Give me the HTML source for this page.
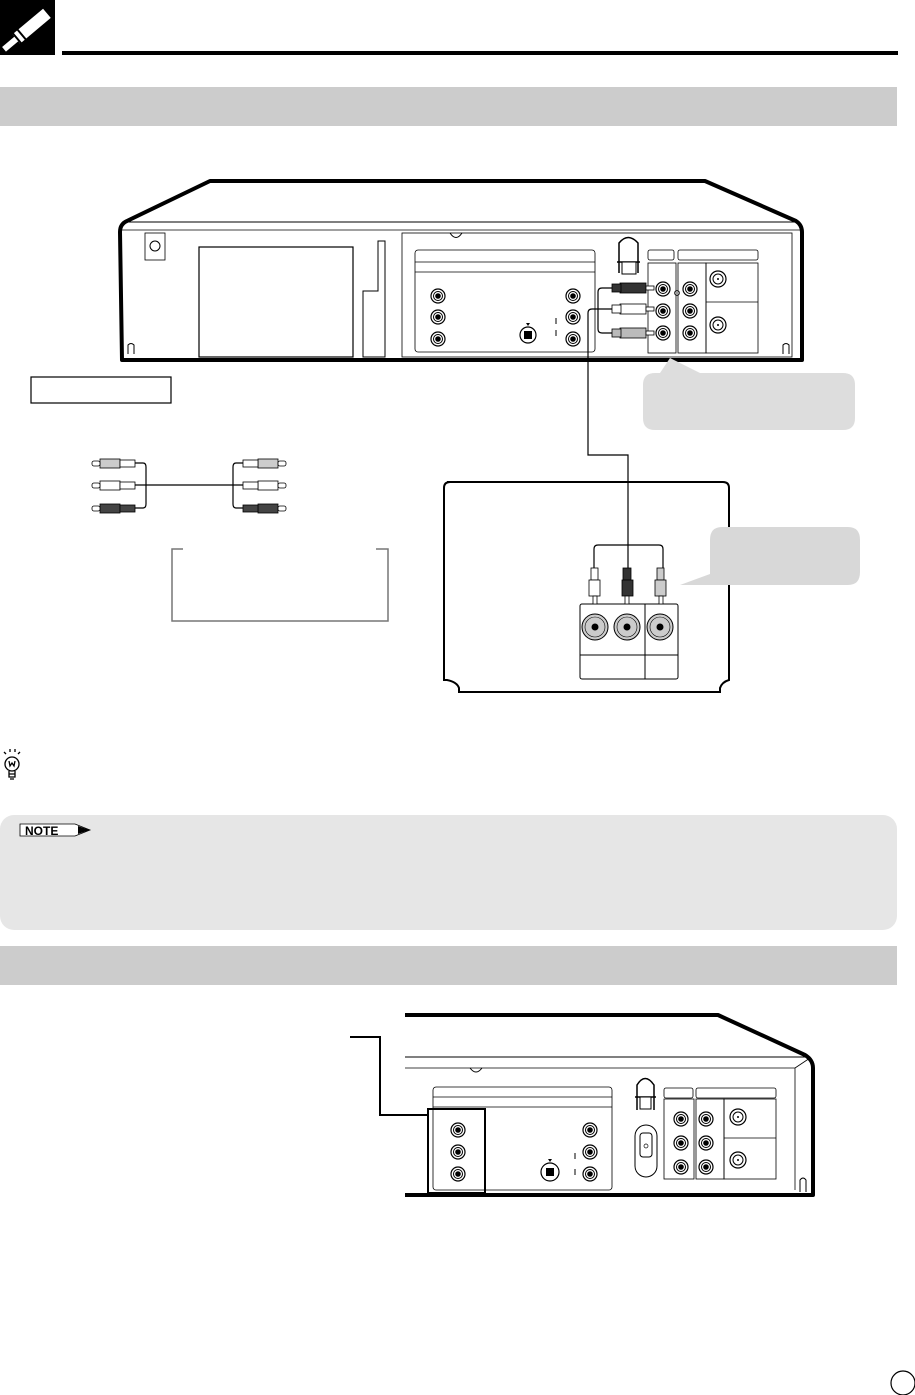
<!DOCTYPE html>
<html><head><meta charset="utf-8"><style>
html,body{margin:0;padding:0;background:#fff;}
svg{display:block;}
</style></head><body>
<svg width="915" height="1395" viewBox="0 0 915 1395" xmlns="http://www.w3.org/2000/svg" font-family="Liberation Sans, sans-serif">
<defs>
<g id="jack"><circle r="7" fill="#fff" stroke="#000" stroke-width="1.2"/><circle r="4.5" fill="#fff" stroke="#000" stroke-width="1"/><circle r="2.8" fill="#000"/></g>
<g id="coax"><circle r="8" fill="#fff" stroke="#000" stroke-width="1.2"/><circle r="5" fill="#fff" stroke="#000"/><circle r="1" fill="#000"/></g>
</defs>
<!-- header -->
<rect x="0" y="0" width="55" height="55" fill="#000"/>
<g transform="translate(27,30) rotate(-40)">
<rect x="-4" y="-6" width="40" height="12" fill="#fff" transform="translate(-10,0)"/>
<rect x="-30" y="-3" width="20" height="6" fill="#fff"/>
<rect x="-14" y="-8" width="2" height="16" fill="#000"/>
<rect x="-8" y="-8" width="2" height="16" fill="#000"/>
</g>
<rect x="62" y="51" width="836" height="4" fill="#000"/>
<rect x="0" y="87" width="897" height="39" fill="#ccc"/>

<!-- VCR 1 -->
<path d="M122,360 L120,232 Q120,224 127,221 L210,181 L705,181 L796,221 Q802,225 802,232 L802,360 Z" fill="#fff" stroke="#000" stroke-width="4" stroke-linejoin="round"/>
<line x1="122" y1="222" x2="800" y2="222" stroke="#000" stroke-width="1"/>
<line x1="122" y1="230" x2="800" y2="230" stroke="#000" stroke-width="0.8"/>
<path d="M128,354 L128,345 Q131,342 134,345 L134,354" fill="none" stroke="#000"/>
<path d="M783,354 L783,345 Q786,342 789,345 L789,354" fill="none" stroke="#000"/>
<rect x="145" y="233" width="20" height="27" fill="none" stroke="#000" stroke-width="0.8"/>
<circle cx="155" cy="246" r="5" fill="none" stroke="#000"/>
<rect x="199" y="247" width="154" height="110" fill="none" stroke="#000" stroke-width="1.2"/>
<path d="M363,357 L363,291 L378,291 L378,241 L385,241 L385,357 Z" fill="none" stroke="#000"/>
<rect x="402" y="233" width="390" height="124" fill="none" stroke="#000" stroke-width="0.8"/>
<path d="M450,233 Q456,242 462,233" fill="none" stroke="#000"/>
<rect x="415" y="250" width="180" height="102" rx="3" fill="none" stroke="#000" stroke-width="0.8"/>
<line x1="415" y1="262" x2="595" y2="262" stroke="#000" stroke-width="0.8"/>
<line x1="415" y1="272" x2="595" y2="272" stroke="#000" stroke-width="0.8"/>
<use href="#jack" x="438" y="296"/><use href="#jack" x="438" y="317"/><use href="#jack" x="438" y="339"/>
<use href="#jack" x="573" y="296"/><use href="#jack" x="573" y="317"/><use href="#jack" x="573" y="339"/>
<circle cx="528" cy="335" r="8" fill="#fff" stroke="#000" stroke-width="1.2"/><rect x="524" y="331" width="8" height="8" fill="#000"/>
<path d="M526,323 L530,323 L528,326 Z" fill="#000"/>
<line x1="556" y1="318" x2="556" y2="324" stroke="#000"/><line x1="556" y1="330" x2="556" y2="336" stroke="#000"/>
<path d="M619,273 L619,243 Q628,232 638,243 L638,273 M617,262 L640,262" fill="none" stroke="#000" stroke-width="1.5"/>
<rect x="622" y="262" width="14" height="12" fill="#fff" stroke="#000"/>
<rect x="648" y="250" width="26" height="10" rx="2" fill="none" stroke="#000" stroke-width="0.8"/>
<rect x="678" y="250" width="80" height="10" rx="2" fill="none" stroke="#000" stroke-width="0.8"/>
<rect x="648" y="263" width="28" height="90" fill="none" stroke="#000" stroke-width="0.8"/>
<rect x="678" y="263" width="28" height="90" fill="none" stroke="#000" stroke-width="0.8"/>
<rect x="706" y="263" width="52" height="90" fill="none" stroke="#000" stroke-width="0.8"/>
<line x1="706" y1="302" x2="758" y2="302" stroke="#000" stroke-width="0.8"/>
<use href="#jack" x="663" y="289"/><use href="#jack" x="663" y="311"/><use href="#jack" x="663" y="333"/>
<use href="#jack" x="690" y="289"/><use href="#jack" x="690" y="311"/><use href="#jack" x="690" y="333"/>
<use href="#coax" x="718" y="279"/><use href="#coax" x="718" y="325"/>
<circle cx="677" cy="293" r="2.5" fill="none" stroke="#000" stroke-width="0.7"/>
<!-- plugs into VCR -->
<g stroke="#000" stroke-width="0.8">
<rect x="620" y="283" width="26" height="10" fill="#333"/><rect x="612" y="284" width="9" height="8" fill="#333"/><rect x="646" y="286" width="8" height="4" fill="#fff"/>
<rect x="620" y="304" width="26" height="10" fill="#fff"/><rect x="612" y="305" width="9" height="8" fill="#fff"/><rect x="646" y="307" width="8" height="4" fill="#fff"/>
<rect x="620" y="328" width="26" height="10" fill="#bbb"/><rect x="612" y="329" width="9" height="8" fill="#bbb"/><rect x="646" y="331" width="8" height="4" fill="#fff"/>
</g>
<path d="M612,288 L602,288 Q598,288 598,292 L598,329 Q598,333 602,333 L612,333" fill="none" stroke="#000" stroke-width="1.2"/>
<path d="M612,309 L592,309 Q588,309 588,313 L588,455 L628,455 L628,575" fill="none" stroke="#000" stroke-width="1.2"/>
<!-- callout 1 -->
<path d="M670,358 L700,373 L843,373 Q855,373 855,385 L855,418 Q855,430 843,430 L655,430 Q643,430 643,418 L643,385 Q643,373 655,373 L660,373 Z" fill="#ddd"/>

<!-- left cable -->
<rect x="31" y="377" width="140" height="26" fill="none" stroke="#000" stroke-width="1.2"/>
<g stroke="#000" stroke-width="0.8">
<rect x="100" y="459" width="20" height="9" fill="#ccc"/><rect x="120" y="460" width="15" height="7" fill="#fff"/><rect x="92" y="461" width="8" height="5" rx="2" fill="#fff"/>
<rect x="100" y="481" width="20" height="9" fill="#fff"/><rect x="120" y="482" width="15" height="7" fill="#fff"/><rect x="92" y="483" width="8" height="5" rx="2" fill="#fff"/>
<rect x="100" y="504" width="20" height="9" fill="#444"/><rect x="120" y="505" width="15" height="7" fill="#444"/><rect x="92" y="506" width="8" height="5" rx="2" fill="#fff"/>
<rect x="258" y="459" width="20" height="9" fill="#ccc"/><rect x="243" y="460" width="15" height="7" fill="#fff"/><rect x="278" y="461" width="8" height="5" rx="2" fill="#fff"/>
<rect x="258" y="481" width="20" height="9" fill="#fff"/><rect x="243" y="482" width="15" height="7" fill="#fff"/><rect x="278" y="483" width="8" height="5" rx="2" fill="#fff"/>
<rect x="258" y="504" width="20" height="9" fill="#444"/><rect x="243" y="505" width="15" height="7" fill="#444"/><rect x="278" y="506" width="8" height="5" rx="2" fill="#fff"/>
</g>
<path d="M135,463 L143,463 Q146,463 146,467 L146,504 Q146,508 143,508 L135,508 M135,485 L243,485 M243,463 L236,463 Q233,463 233,467 L233,504 Q233,508 236,508 L243,508" fill="none" stroke="#000" stroke-width="1.2"/>
<path d="M183,549 L172,549 L172,621 L388,621 L388,549 L376,549" fill="none" stroke="#777" stroke-width="1.5"/>

<!-- TV -->
<path d="M447,482 L723,482 Q729,482 729,488 L729,680 Q722,682 720,688 L720,692 L459,692 L459,688 Q457,682 447,680 L444,680 L444,488 Q444,482 450,482 Z" fill="none" stroke="#000" stroke-width="2"/>
<rect x="580" y="604" width="98" height="75" rx="2" fill="#fff" stroke="#000" stroke-width="1"/>
<line x1="645" y1="604" x2="645" y2="679" stroke="#000"/><line x1="580" y1="655" x2="678" y2="655" stroke="#000"/>
<g><circle cx="595" cy="627" r="13" fill="#ccc" stroke="#000"/><circle cx="595" cy="627" r="10" fill="#ccc" stroke="#000" stroke-width="0.6"/><circle cx="595" cy="627" r="3.5" fill="#000"/></g>
<g><circle cx="627" cy="627" r="13" fill="#ccc" stroke="#000"/><circle cx="627" cy="627" r="10" fill="#ccc" stroke="#000" stroke-width="0.6"/><circle cx="627" cy="627" r="3.5" fill="#000"/></g>
<g><circle cx="660" cy="627" r="13" fill="#ccc" stroke="#000"/><circle cx="660" cy="627" r="10" fill="#ccc" stroke="#000" stroke-width="0.6"/><circle cx="660" cy="627" r="3.5" fill="#000"/></g>
<path d="M594,568 L594,549 Q594,545 598,545 L659,545 Q663,545 663,549 L663,568" fill="none" stroke="#000" stroke-width="1.2"/>
<g stroke="#000" stroke-width="0.8">
<rect x="591" y="568" width="7" height="12" fill="#fff"/><rect x="589" y="580" width="11" height="16" fill="#fff"/><rect x="593" y="596" width="4" height="8" fill="#fff"/>
<rect x="623" y="568" width="8" height="12" fill="#333"/><rect x="622" y="580" width="11" height="16" fill="#333"/><rect x="625" y="596" width="4" height="8" fill="#fff"/>
<rect x="657" y="568" width="7" height="12" fill="#ccc"/><rect x="655" y="580" width="11" height="16" fill="#ccc"/><rect x="659" y="596" width="4" height="8" fill="#fff"/>
</g>
<!-- callout 2 -->
<path d="M680,585 L710,574 L710,540 Q710,527 722,527 L848,527 Q860,527 860,540 L860,572 Q860,585 848,585 L722,585 Z" fill="#d8d8d8"/>

<!-- bulb -->
<g stroke="#000" stroke-width="1.3" fill="none">
<circle cx="12" cy="764" r="7"/><path d="M9,771 L9,777 L15,777 L15,771 M9,774 L15,774 M10,779 L14,779"/>
<path d="M9,761 L10,766 L12,763 L14,766 L15,761"/>
<path d="M4,752 L6,754 M10,749 L10,752 M15,749 L15,752 M20,752 L18,754"/>
</g>

<!-- note -->
<rect x="0" y="815" width="897" height="115" rx="14" fill="#e6e6e6"/>
<path d="M20,824 L75,824 L90,830 L75,836 L20,836 Z" fill="#fff" stroke="#000" stroke-width="0.8"/>
<path d="M78,826 L90,830 L78,834 Z" fill="#000"/>
<text x="25" y="835" font-size="12" font-weight="bold">NOTE</text>

<rect x="0" y="946" width="897" height="39" fill="#ccc"/>

<!-- VCR 2 -->
<path d="M405,1015 L718,1015 L805,1055 Q813,1060 813,1068 L813,1195 L405,1195" fill="none" stroke="#000" stroke-width="4" stroke-linejoin="round"/>
<line x1="405" y1="1057" x2="808" y2="1057" stroke="#000"/>
<line x1="405" y1="1068" x2="795" y2="1068" stroke="#000" stroke-width="0.8"/>
<line x1="795" y1="1068" x2="795" y2="1190" stroke="#000" stroke-width="0.8"/>
<line x1="795" y1="1068" x2="810" y2="1058" stroke="#000" stroke-width="0.8"/>
<path d="M470,1068 Q476,1076 482,1068" fill="none" stroke="#000"/>
<path d="M800,1192 L800,1180 Q803,1176 806,1180 L806,1192" fill="none" stroke="#000"/>
<rect x="433" y="1087" width="179" height="103" rx="3" fill="none" stroke="#000" stroke-width="0.8"/>
<line x1="433" y1="1097" x2="612" y2="1097" stroke="#000" stroke-width="0.8"/>
<line x1="433" y1="1107" x2="612" y2="1107" stroke="#000" stroke-width="0.8"/>
<rect x="428" y="1109" width="57" height="84" fill="none" stroke="#000" stroke-width="2"/>
<path d="M350,1037 L380,1037 L380,1115 L428,1115" fill="none" stroke="#000" stroke-width="2"/>
<use href="#jack" x="458" y="1130"/><use href="#jack" x="458" y="1152"/><use href="#jack" x="458" y="1174"/>
<use href="#jack" x="590" y="1130"/><use href="#jack" x="590" y="1152"/><use href="#jack" x="590" y="1174"/>
<circle cx="550" cy="1172" r="9" fill="#fff" stroke="#000" stroke-width="1.2"/><rect x="546" y="1168" width="8" height="8" fill="#000"/>
<path d="M548,1159 L552,1159 L550,1162 Z" fill="#000"/>
<line x1="575" y1="1153" x2="575" y2="1159" stroke="#000"/><line x1="575" y1="1169" x2="575" y2="1175" stroke="#000"/>
<path d="M637,1110 L637,1085 Q645,1072 654,1085 L654,1110 M635,1097 L656,1097" fill="none" stroke="#000" stroke-width="1.5"/>
<rect x="640" y="1097" width="11" height="12" fill="#fff" stroke="#000"/>
<rect x="635" y="1125" width="22" height="52" rx="11" fill="none" stroke="#000"/>
<rect x="640" y="1133" width="12" height="24" rx="3" fill="none" stroke="#000"/>
<circle cx="646" cy="1146" r="2" fill="none" stroke="#000" stroke-width="0.7"/>
<rect x="664" y="1088" width="29" height="10" rx="2" fill="none" stroke="#000" stroke-width="0.8"/>
<rect x="696" y="1088" width="80" height="10" rx="2" fill="none" stroke="#000" stroke-width="0.8"/>
<rect x="664" y="1099" width="30" height="80" fill="none" stroke="#000" stroke-width="0.8"/>
<rect x="696" y="1099" width="28" height="80" fill="none" stroke="#000" stroke-width="0.8"/>
<rect x="724" y="1099" width="52" height="80" fill="none" stroke="#000" stroke-width="0.8"/>
<line x1="724" y1="1138" x2="776" y2="1138" stroke="#000" stroke-width="0.8"/>
<use href="#jack" x="681" y="1119"/><use href="#jack" x="681" y="1143"/><use href="#jack" x="681" y="1167"/>
<use href="#jack" x="706" y="1119"/><use href="#jack" x="706" y="1143"/><use href="#jack" x="706" y="1167"/>
<use href="#coax" x="738" y="1117"/><use href="#coax" x="738" y="1160"/>

<circle cx="903" cy="1383" r="12" fill="#fff" stroke="#000" stroke-width="1.2"/>
</svg>
</body></html>
